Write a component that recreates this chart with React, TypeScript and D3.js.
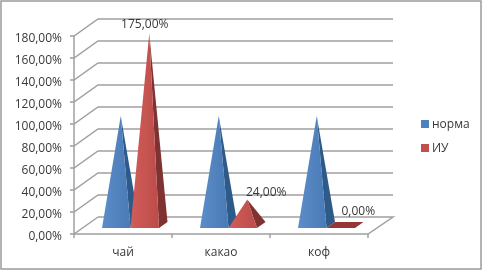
import React from "react";
import * as d3 from "d3";

const categories = ["чай", "какао", "коф"];
const seriesNames = ["норма", "ИУ"];
const norma = [100, 100, 100];
const iu = [175, 24, 0];
const ticks = [0, 20, 40, 60, 80, 100, 120, 140, 160, 180];
const FRONT = ["#4F81BD", "#C0504D"];
const SIDE = ["#2F5A8A", "#7F3230"];
const FLAT = "#953735";
const GRID = "#a0a0a0";
const TEXT = "#383838";
const FONT = "'Open Sans', sans-serif";

const fmt = (v: number) => v.toFixed(2).replace(".", ",") + "%";

export default function App() {
  const y = d3.scaleLinear().domain([0, 180]).range([234, 36]);
  const x0 = d3.scaleBand<string>().domain(categories).range([74, 368]);
  const x1 = d3.scaleBand<string>().domain(seriesNames).range([28, 85]);
  const dx = 24, dy = -17;
  const all = [norma, iu];
  const line = d3.line();

  return (
    <svg
      width={482}
      height={270}
      style={{ position: "absolute", left: 0, top: 0, background: "#fff" }}
      fontFamily={FONT}
    >
      <defs>
        <filter id="soft"><feGaussianBlur stdDeviation={0.35} /></filter>
        <filter id="softText"><feGaussianBlur stdDeviation={0.25} /></filter>
        <linearGradient id="g0" x1="0" x2="1" y1="0" y2="0">
          <stop offset="0" stopColor="#5b8dc9" />
          <stop offset="1" stopColor="#4A7AB5" />
        </linearGradient>
        <linearGradient id="g1" x1="0" x2="1" y1="0" y2="0">
          <stop offset="0" stopColor="#D25C59" />
          <stop offset="1" stopColor="#BC4C49" />
        </linearGradient>
      </defs>
      <rect x={1} y={1} width={480} height={268} fill="#fff" stroke="#9a9a9a" strokeWidth={1.5} />
      <g filter="url(#soft)">
        {ticks.map((t) => (
          <path
            key={t}
            d={line([[70, y(t)], [74, y(t)], [74 + dx, y(t) + dy], ...(t === 0 ? [] : [[74 + dx + 295, y(t) + dy] as [number, number]])])!}
            fill="none"
            stroke={GRID}
            strokeWidth={1.5}
          />
        ))}
        <path d={line([[74, y(0)], [74, y(180)]])!} stroke={GRID} strokeWidth={1.5} fill="none" />
        <path d={line([[98, y(0) + dy], [393, y(0) + dy], [368, y(0)], [74, y(0)]])!} stroke={GRID} strokeWidth={1.5} fill="none" />
        {categories.map((c) => (
          <path key={c} d={line([[x0(c)!, y(0)], [x0(c)!, y(0) + 4]])!} stroke={GRID} strokeWidth={1.5} />
        ))}
        <path d={line([[368, y(0)], [368, y(0) + 4]])!} stroke={GRID} strokeWidth={1.5} />

        {categories.map((c, i) =>
          seriesNames.map((s, k) => {
            const v = all[k][i];
            const left = x0(c)! + x1(s)!;
            const w = x1.bandwidth();
            const base = y(0) - 6;
            const sx = 8.5, sy = -6;
            const right = left + w;
            const apexX = left + w / 2 + 4.5;
            const apexY = y(v) - 8;
            if (v === 0) {
              return (
                <path
                  key={s}
                  d={line([[left, base], [right, base], [right + sx, base + sy], [left + sx, base + sy]])! + "Z"}
                  fill={FLAT}
                />
              );
            }
            return (
              <g key={s}>
                <path d={line([[right, base], [right + sx, base + sy], [apexX, apexY]])! + "Z"} fill={SIDE[k]} />
                <path d={line([[left, base], [right, base], [apexX, apexY]])! + "Z"} fill={`url(#g${k})`} />
              </g>
            );
          })
        )}
      </g>

      <g filter="url(#softText)">
        {ticks.map((t) => (
          <text key={t} x={62} y={y(t) + 1.5} dy="0.35em" textAnchor="end" fontSize={12} fill={TEXT}>
            {fmt(t)}
          </text>
        ))}
        {categories.map((c) => (
          <text key={c} x={x0(c)! + 49} y={252} dy="0.35em" textAnchor="middle" fontSize={12} fill={TEXT}>
            {c}
          </text>
        ))}
        {categories.map((c, i) => {
          const v = iu[i];
          const cx = x0(c)! + x1("ИУ")! + x1.bandwidth() / 2 + (v === 0 ? 17.5 : v < 100 ? 23.5 : 0);
          const cy = v === 0 ? 211 : v > 100 ? 24 : y(v) - 15.5;
          return (
            <text key={c} x={cx} y={cy} dy="0.35em" textAnchor="middle" fontSize={12} fill={TEXT}>
              {fmt(v)}
            </text>
          );
        })}
        {seriesNames.map((s, k) => (
          <g key={s}>
            <rect x={421} y={120 + k * 24} width={8} height={8} fill={FRONT[k]} />
            <text x={432} y={124 + k * 24} dy="0.35em" fontSize={12} fill={TEXT}>
              {s}
            </text>
          </g>
        ))}
      </g>
    </svg>
  );
}
